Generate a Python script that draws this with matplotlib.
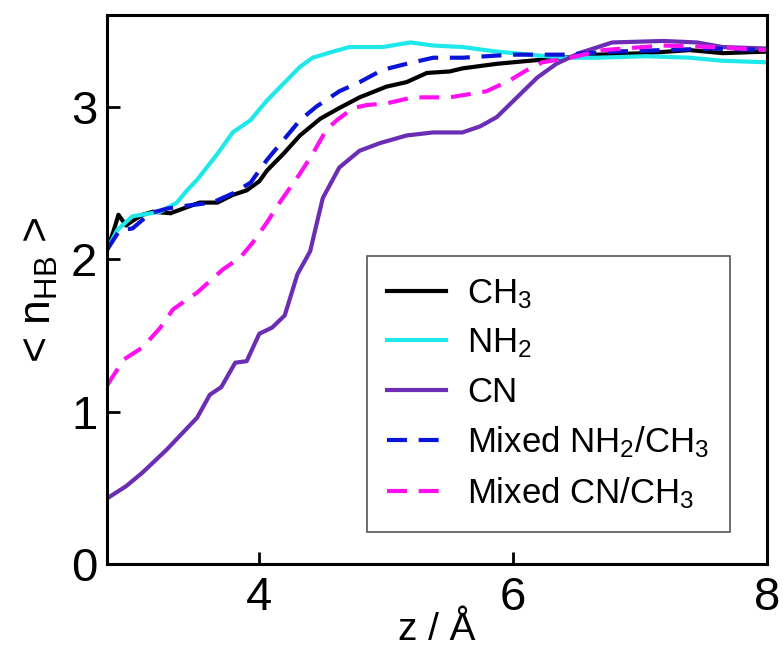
import matplotlib
matplotlib.use("Agg")
import matplotlib.pyplot as plt

plt.rcParams['font.family'] = ['Liberation Sans Narrow', 'Liberation Sans', 'DejaVu Sans']
plt.rcParams['mathtext.default'] = 'regular'

# hydrogen-bond count profiles vs distance from the surface
z_ch3 = [2.80, 2.85, 2.89, 2.95, 3.00, 3.08, 3.16, 3.30, 3.43, 3.53, 3.67, 3.79, 3.90, 4.00,
         4.06, 4.19, 4.32, 4.48, 4.63, 4.79, 5.00, 5.16, 5.32, 5.50, 5.60, 5.87, 6.13, 6.39,
         6.66, 7.05, 7.39, 7.65, 8.00]
n_ch3 = [2.06, 2.18, 2.29, 2.22, 2.25, 2.29, 2.31, 2.30, 2.34, 2.37, 2.37, 2.42, 2.45, 2.51,
         2.58, 2.69, 2.81, 2.92, 2.99, 3.06, 3.13, 3.16, 3.22, 3.23, 3.25, 3.28, 3.30, 3.32,
         3.34, 3.35, 3.37, 3.35, 3.36]

z_nh2 = [2.80, 2.88, 3.00, 3.22, 3.35, 3.43, 3.51, 3.67, 3.79, 3.93, 4.06, 4.19, 4.32, 4.42,
         4.58, 4.71, 4.97, 5.19, 5.37, 5.60, 5.87, 6.13, 6.39, 6.66, 7.05, 7.39, 7.65, 8.00]
n_nh2 = [2.06, 2.19, 2.28, 2.31, 2.37, 2.45, 2.52, 2.69, 2.83, 2.91, 3.04, 3.15, 3.26, 3.32,
         3.36, 3.39, 3.39, 3.42, 3.40, 3.39, 3.36, 3.34, 3.32, 3.32, 3.33, 3.32, 3.30, 3.29]

z_cn = [2.80, 2.95, 3.08, 3.27, 3.51, 3.61, 3.70, 3.81, 3.90, 4.00, 4.10, 4.20, 4.30, 4.40,
        4.50, 4.63, 4.79, 4.95, 5.16, 5.37, 5.60, 5.74, 5.87, 6.03, 6.19, 6.34, 6.52, 6.78,
        7.18, 7.45, 7.65, 8.00]
n_cn = [0.43, 0.51, 0.60, 0.75, 0.96, 1.11, 1.16, 1.32, 1.33, 1.51, 1.55, 1.63, 1.90, 2.05,
        2.40, 2.60, 2.71, 2.76, 2.81, 2.83, 2.83, 2.87, 2.93, 3.06, 3.19, 3.28, 3.35, 3.42,
        3.43, 3.42, 3.39, 3.38]

z_mix_nh2 = [2.80, 2.90, 3.00, 3.14, 3.27, 3.43, 3.63, 3.79, 3.93, 4.06, 4.19, 4.32, 4.45,
             4.63, 4.79, 4.97, 5.16, 5.37, 5.60, 5.99, 6.39, 6.78, 7.18, 7.57, 8.00]
n_mix_nh2 = [2.06, 2.19, 2.20, 2.30, 2.33, 2.35, 2.37, 2.43, 2.50, 2.65, 2.78, 2.91, 3.00,
             3.10, 3.16, 3.24, 3.28, 3.32, 3.32, 3.34, 3.34, 3.36, 3.37, 3.38, 3.37]

z_mix_cn = [2.80, 2.93, 3.08, 3.22, 3.32, 3.51, 3.71, 3.85, 3.95, 4.06, 4.16, 4.32, 4.42,
            4.53, 4.61, 4.74, 4.85, 5.00, 5.21, 5.50, 5.79, 5.97, 6.11, 6.23, 6.45, 6.71,
            7.18, 7.57, 8.00]
n_mix_cn = [1.17, 1.34, 1.42, 1.55, 1.67, 1.78, 1.93, 2.01, 2.11, 2.24, 2.37, 2.56, 2.69,
            2.85, 2.91, 2.99, 3.01, 3.02, 3.06, 3.06, 3.10, 3.17, 3.24, 3.29, 3.32, 3.37,
            3.40, 3.39, 3.37]

labels = [r'CH$_3$', r'NH$_2$', 'CN', r'Mixed NH$_2$/CH$_3$', r'Mixed CN/CH$_3$']

fig = plt.figure(figsize=(7.83, 6.53), dpi=100)
ax = fig.add_axes([0.1367, 0.1363, 0.8429, 0.8407])

lw = 3.0
dash = (4.8, 2.8)
ax.plot(z_ch3, n_ch3, color='black', lw=lw, label=labels[0])
ax.plot(z_nh2, n_nh2, color='#1fe8ea', lw=lw, label=labels[1])
ax.plot(z_cn, n_cn, color='#6a2db4', lw=lw, label=labels[2])
ax.plot(z_mix_nh2, n_mix_nh2, color='#0a14d8', lw=lw, dashes=dash, label=labels[3])
ax.plot(z_mix_cn, n_mix_cn, color='#ff10f0', lw=lw, dashes=dash, label=labels[4])

ax.set_xlim(2.8, 8)
ax.set_ylim(0, 3.6)
ax.set_xticks([4, 6, 8])
ax.set_yticks([0, 1, 2, 3])
ax.tick_params(direction='in', length=9, width=2, labelsize=34, top=False, right=False)
ax.tick_params(axis='x', pad=9)
ax.tick_params(axis='y', pad=7)
for s in ax.spines.values():
    s.set_linewidth(2.2)

ax.set_xlabel('z / Å', fontsize=28, labelpad=-6)
ax.set_ylabel(r'< n$_{HB}$ >', fontsize=32, labelpad=8)

leg = ax.legend(loc='lower right', bbox_to_anchor=(0.944, 0.058), fontsize=25,
                frameon=True, fancybox=False, edgecolor='#555555', framealpha=1,
                handlelength=1.7, handletextpad=0.6, labelspacing=0.45, borderpad=0.6,
                borderaxespad=0)
leg.get_frame().set_linewidth(1.2)

plt.savefig('out.png', dpi=100)
